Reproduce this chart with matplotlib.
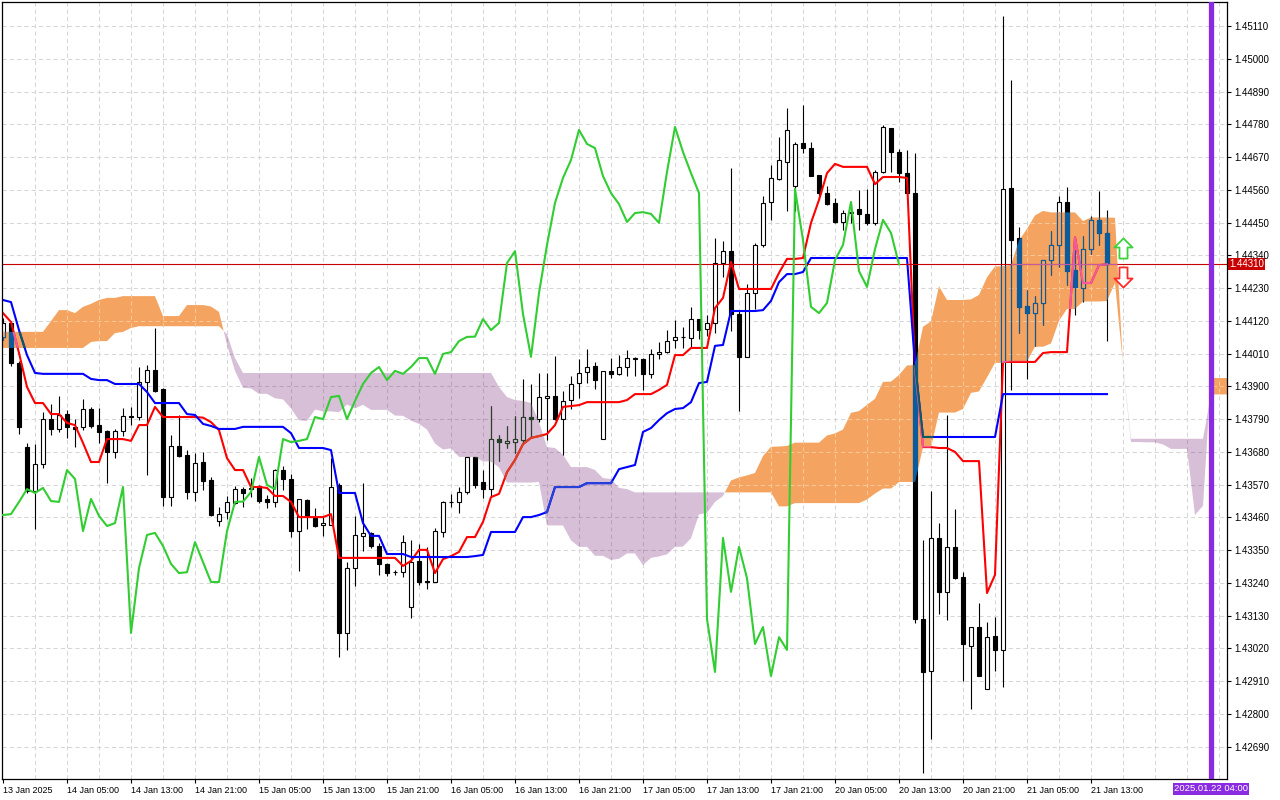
import numpy as np
import matplotlib
matplotlib.use("Agg")
import matplotlib.pyplot as plt
import matplotlib.transforms as mtransforms
from matplotlib.path import Path
from matplotlib.patches import PathPatch

plt.rcParams['font.family'] = ['Liberation Sans', 'DejaVu Sans']

# H1 candles, 13 Jan 21:00 .. 21 Jan 15:00
opens = [
    1.44066, 1.44113, 1.43978, 1.43696, 1.43549, 1.43639, 1.43790, 1.43757, 1.43807, 1.43764,
    1.43764, 1.43824, 1.43770, 1.43750, 1.43680, 1.43750, 1.43800, 1.43797, 1.43915, 1.43955,
    1.43891, 1.43528, 1.43700, 1.43670, 1.43545, 1.43646, 1.43586, 1.43448, 1.43478, 1.43508,
    1.43555, 1.43555, 1.43565, 1.43522, 1.43512, 1.43619, 1.43589, 1.43414, 1.43518, 1.43458,
    1.43434, 1.43434, 1.43569, 1.43072, 1.43290, 1.43398, 1.43408, 1.43364, 1.43304, 1.43277,
    1.43277, 1.43159, 1.43314, 1.43246, 1.43243, 1.43411, 1.43512, 1.43512, 1.43545, 1.43663,
    1.43579, 1.43555, 1.43723, 1.43710, 1.43713, 1.43720, 1.43797, 1.43790, 1.43861, 1.43868,
    1.43790, 1.43854, 1.43911, 1.43948, 1.43968, 1.43723, 1.43952, 1.43942, 1.43965, 1.43992,
    1.43992, 1.43942, 1.44009, 1.44015, 1.44056, 1.44066, 1.44062, 1.44126, 1.44093, 1.44113,
    1.44314, 1.44354, 1.44143, 1.43999, 1.44213, 1.44375, 1.44519, 1.44596, 1.44653, 1.44573,
    1.44717, 1.44700, 1.44610, 1.44549, 1.44516, 1.44452, 1.44482, 1.44496, 1.44479, 1.44449,
    1.44620, 1.44768, 1.44687, 1.44616, 1.44549, 1.43119, 1.42944, 1.43391, 1.43210, 1.43361,
    1.43260, 1.43028, 1.43092, 1.42884, 1.43062, 1.43015, 1.44566, 1.44398, 1.44170, 1.44146,
    1.44180, 1.44324, 1.44375, 1.44519, 1.44291, 1.44230, 1.44361, 1.44459, 1.44415,
]
highs = [
    1.44130, 1.44119, 1.43985, 1.43710, 1.43706, 1.43814, 1.43841, 1.43868, 1.43821, 1.43790,
    1.43858, 1.43831, 1.43827, 1.43753, 1.43757, 1.43827, 1.43831, 1.43965, 1.43972, 1.44096,
    1.43894, 1.43737, 1.43804, 1.43686, 1.43676, 1.43680, 1.43596, 1.43495, 1.43532, 1.43565,
    1.43562, 1.43592, 1.43569, 1.43535, 1.43622, 1.43633, 1.43606, 1.43522, 1.43522, 1.43492,
    1.43461, 1.43659, 1.43575, 1.43310, 1.43465, 1.43575, 1.43411, 1.43374, 1.43307, 1.43283,
    1.43401, 1.43384, 1.43371, 1.43361, 1.43424, 1.43515, 1.43539, 1.43562, 1.43663, 1.43663,
    1.43619, 1.43834, 1.43737, 1.43767, 1.43800, 1.43925, 1.43908, 1.43945, 1.43945, 1.44002,
    1.43884, 1.43935, 1.43992, 1.44025, 1.43982, 1.43952, 1.43995, 1.44005, 1.44022, 1.43999,
    1.43995, 1.44025, 1.44049, 1.44089, 1.44123, 1.44099, 1.44167, 1.44126, 1.44140, 1.44398,
    1.44388, 1.44633, 1.44156, 1.44244, 1.44381, 1.44539, 1.44643, 1.44737, 1.44835, 1.44720,
    1.44845, 1.44720, 1.44610, 1.44573, 1.44532, 1.44492, 1.44516, 1.44559, 1.44563, 1.44626,
    1.44778, 1.44768, 1.44697, 1.44694, 1.44684, 1.43384, 1.43549, 1.43441, 1.43804, 1.43488,
    1.43277, 1.43092, 1.43173, 1.43109, 1.43126, 1.45144, 1.44929, 1.44435, 1.44224, 1.44203,
    1.44324, 1.44422, 1.44539, 1.44569, 1.44358, 1.44405, 1.44472, 1.44556, 1.44492,
]
lows = [
    1.44056, 1.43968, 1.43740, 1.43542, 1.43421, 1.43626, 1.43737, 1.43747, 1.43727, 1.43696,
    1.43753, 1.43760, 1.43710, 1.43575, 1.43659, 1.43733, 1.43770, 1.43787, 1.43602, 1.43881,
    1.43498, 1.43498, 1.43663, 1.43522, 1.43515, 1.43552, 1.43465, 1.43431, 1.43455, 1.43505,
    1.43495, 1.43528, 1.43508, 1.43492, 1.43495, 1.43552, 1.43394, 1.43280, 1.43421, 1.43428,
    1.43398, 1.43434, 1.42991, 1.43015, 1.43230, 1.43347, 1.43357, 1.43267, 1.43263, 1.43267,
    1.43260, 1.43122, 1.43233, 1.43220, 1.43243, 1.43394, 1.43495, 1.43475, 1.43539, 1.43559,
    1.43525, 1.43528, 1.43649, 1.43693, 1.43676, 1.43706, 1.43730, 1.43780, 1.43720, 1.43787,
    1.43670, 1.43824, 1.43861, 1.43911, 1.43891, 1.43723, 1.43928, 1.43938, 1.43935, 1.43935,
    1.43888, 1.43928, 1.43992, 1.44012, 1.44029, 1.44029, 1.44029, 1.44059, 1.44069, 1.44079,
    1.44267, 1.44086, 1.43817, 1.43999, 1.44160, 1.44368, 1.44459, 1.44593, 1.44489, 1.44489,
    1.44684, 1.44606, 1.44532, 1.44509, 1.44449, 1.44425, 1.44449, 1.44425, 1.44442, 1.44442,
    1.44616, 1.44620, 1.44586, 1.44549, 1.43105, 1.42602, 1.42716, 1.43136, 1.43115, 1.43253,
    1.42911, 1.42817, 1.42927, 1.42884, 1.42944, 1.42891, 1.43888, 1.44079, 1.43925, 1.44036,
    1.44106, 1.44274, 1.44301, 1.44240, 1.44140, 1.44183, 1.44344, 1.44375, 1.44052,
]
closes = [
    1.44113, 1.43978, 1.43764, 1.43549, 1.43639, 1.43790, 1.43757, 1.43804, 1.43764, 1.43757,
    1.43824, 1.43767, 1.43747, 1.43680, 1.43750, 1.43800, 1.43797, 1.43915, 1.43955, 1.43884,
    1.43528, 1.43700, 1.43666, 1.43545, 1.43642, 1.43582, 1.43468, 1.43471, 1.43512, 1.43555,
    1.43542, 1.43559, 1.43515, 1.43512, 1.43619, 1.43589, 1.43414, 1.43522, 1.43465, 1.43431,
    1.43441, 1.43562, 1.43072, 1.43290, 1.43401, 1.43408, 1.43364, 1.43304, 1.43273, 1.43276,
    1.43377, 1.43310, 1.43243, 1.43243, 1.43414, 1.43512, 1.43513, 1.43545, 1.43663, 1.43569,
    1.43555, 1.43723, 1.43713, 1.43717, 1.43723, 1.43797, 1.43790, 1.43864, 1.43868, 1.43790,
    1.43851, 1.43908, 1.43945, 1.43965, 1.43921, 1.43952, 1.43942, 1.43965, 1.43995, 1.43995,
    1.43942, 1.44009, 1.44015, 1.44052, 1.44066, 1.44067, 1.44126, 1.44089, 1.44113, 1.44314,
    1.44354, 1.44143, 1.43999, 1.44213, 1.44375, 1.44516, 1.44600, 1.44660, 1.44761, 1.44714,
    1.44700, 1.44606, 1.44549, 1.44512, 1.44452, 1.44482, 1.44485, 1.44479, 1.44449, 1.44620,
    1.44771, 1.44687, 1.44616, 1.44549, 1.43119, 1.42941, 1.43391, 1.43210, 1.43361, 1.43256,
    1.43035, 1.43092, 1.42927, 1.43058, 1.43015, 1.44563, 1.44391, 1.44167, 1.44146, 1.44180,
    1.44324, 1.44375, 1.44519, 1.44287, 1.44234, 1.44361, 1.44459, 1.44415, 1.44310,
]

# Ichimoku lines
tenkan = [
    1.44146, 1.44116, 1.44012, 1.43898, 1.43844, 1.43844, 1.43807, 1.43807, 1.43777, 1.43770,
    1.43710, 1.43646, 1.43646, 1.43723, 1.43723, 1.43723, 1.43717, 1.43770, 1.43770, 1.43831,
    1.43797, 1.43797, 1.43797, 1.43797, 1.43797, 1.43795, 1.43780, 1.43753, 1.43659, 1.43619,
    1.43619, 1.43562, 1.43562, 1.43559, 1.43532, 1.43532, 1.43512, 1.43461, 1.43461, 1.43461,
    1.43461, 1.43471, 1.43324, 1.43324, 1.43324, 1.43324, 1.43324, 1.43324, 1.43324, 1.43324,
    1.43297, 1.43314, 1.43351, 1.43351, 1.43273, 1.43320, 1.43330, 1.43344, 1.43394, 1.43394,
    1.43445, 1.43528, 1.43539, 1.43612, 1.43653, 1.43706, 1.43727, 1.43733, 1.43740, 1.43770,
    1.43831, 1.43834, 1.43837, 1.43847, 1.43847, 1.43847, 1.43847, 1.43847, 1.43854, 1.43874,
    1.43874, 1.43874, 1.43888, 1.43905, 1.44005, 1.44005, 1.44029, 1.44029, 1.44029, 1.44163,
    1.44197, 1.44318, 1.44227, 1.44227, 1.44227, 1.44227, 1.44227, 1.44281, 1.44328, 1.44328,
    1.44331, 1.44449, 1.44526, 1.44616, 1.44647, 1.44637, 1.44637, 1.44637, 1.44637, 1.44579,
    1.44603, 1.44603, 1.44603, 1.44600, 1.43962, 1.43696, 1.43696, 1.43693, 1.43693, 1.43680,
    1.43649, 1.43649, 1.43649, 1.43206, 1.43267, 1.43982, 1.43982, 1.43982, 1.43982, 1.43982,
    1.44012, 1.44015, 1.44015, 1.44015, 1.44401, 1.44247, 1.44247, 1.44307, 1.44310,
]
kijun = ([1.44190, 1.44183, 1.44089, 1.44005, 1.43945] + [1.43942] * 6
         + [1.43925, 1.43921, 1.43921] + [1.43908] * 4 + [1.43881] + [1.43844] * 4
         + [1.43807, 1.43804, 1.43774, 1.43767] + [1.43757] * 3 + [1.43764] * 6
         + [1.43743] + [1.43693] * 4 + [1.43686] + [1.43542] * 3 + [1.43441]
         + [1.43398] * 2 + [1.43337] * 3 + [1.43327] * 8 + [1.43330, 1.43334]
         + [1.43411] * 4 + [1.43461] * 2 + [1.43468, 1.43478] + [1.43562] * 4
         + [1.43575] * 4 + [1.43622, 1.43629, 1.43636, 1.43747, 1.43760, 1.43787,
                            1.43810, 1.43824, 1.43827, 1.43847, 1.43911, 1.43915,
                            1.44036, 1.44039]
         + [1.44153] * 4 + [1.44156, 1.44187, 1.44250, 1.44277, 1.44277, 1.44284]
         + [1.44331] * 13 + [1.43975] + [1.43730] * 10 + [1.43874] * 14)

# Senkou spans (cloud), 15 bars further than the candles
span_a = [
    1.44083, 1.44083, 1.44083, 1.44083, 1.44083, 1.44083,
    1.44119, 1.44156, 1.44156, 1.44146, 1.44167, 1.44177, 1.44190, 1.44197, 1.44197,
    1.44203, 1.44203, 1.44203, 1.44203, 1.44203,
    1.44136, 1.44136, 1.44136, 1.44173, 1.44173, 1.44173,
    1.44168, 1.44150, 1.44040, 1.43952, 1.43895, 1.43893, 1.43875, 1.43875, 1.43860, 1.43856,
    1.43826, 1.43786, 1.43784, 1.43822, 1.43816, 1.43816, 1.43813, 1.43839, 1.43826, 1.43838,
    1.43821, 1.43821, 1.43821, 1.43802, 1.43801, 1.43785, 1.43774, 1.43755, 1.43708, 1.43688,
    1.43692, 1.43663, 1.43663, 1.43662, 1.43648, 1.43648, 1.43628, 1.43577, 1.43577, 1.43577,
    1.43577, 1.43579, 1.43433, 1.43433, 1.43433, 1.43383, 1.43361, 1.43361, 1.43331, 1.43331,
    1.43317, 1.43321, 1.43339, 1.43339, 1.43300, 1.43324, 1.43329, 1.43336, 1.43361, 1.43362,
    1.43390, 1.43470, 1.43475, 1.43512, 1.43532, 1.43584, 1.43594, 1.43601, 1.43609, 1.43666,
    1.43697, 1.43698, 1.43700, 1.43711, 1.43711, 1.43711, 1.43711, 1.43735, 1.43742, 1.43755,
    1.43811, 1.43817, 1.43838, 1.43858, 1.43915, 1.43916, 1.43938, 1.43970, 1.43972, 1.44100,
    1.44118, 1.44236, 1.44190, 1.44190, 1.44190, 1.44192, 1.44207, 1.44266, 1.44303, 1.44303,
    1.44308, 1.44390, 1.44429, 1.44474, 1.44489, 1.44484, 1.44484, 1.44484, 1.44484, 1.44455,
    1.44467, 1.44467, 1.44467, 1.44466, 1.43969, 1.43713, 1.43713, 1.43712, 1.43712, 1.43705,
    1.43690, 1.43690, 1.43690, 1.43468, 1.43499, 1.43928, 1.43928, 1.43928,
]
span_b = ([1.44029] * 11 + [1.44049, 1.44052, 1.44052, 1.44079, 1.44083, 1.44096]
          + [1.44102] * 11 + [1.44075, 1.43995] + [1.43945] * 32
          + [1.43898, 1.43864, 1.43854, 1.43851, 1.43844, 1.43780, 1.43696, 1.43693, 1.43670]
          + [1.43629, 1.43629, 1.43629, 1.43619, 1.43592, 1.43589, 1.43559, 1.43555]
          + [1.43544] * 18 + [1.43497, 1.43497] + [1.43508] * 9
          + [1.43520, 1.43540, 1.43557, 1.43557, 1.43579, 1.43579, 1.43579]
          + [1.43695, 1.43695, 1.43812, 1.43812, 1.43812, 1.43824, 1.43878, 1.43883, 1.43930, 1.43979]
          + [1.43979, 1.43984, 1.43984, 1.43984, 1.44033, 1.44033, 1.44044, 1.44120, 1.44160, 1.44160]
          + [1.44185, 1.44185, 1.44185, 1.44187, 1.44247, 1.43975]
          + [1.43724] * 10 + [1.43873] * 3)

lag = 26            # chikou span shift
bid = 1.44310
time_bar = 151      # 2025.01.22 04:00 marker
signal_bar = 140
signal_up = 1.44365
signal_down = 1.44267

price_ticks = [1.42690, 1.42800, 1.42910, 1.43020, 1.43130, 1.43240, 1.43350, 1.43460,
               1.43570, 1.43680, 1.43790, 1.43900, 1.44010, 1.44120, 1.44230, 1.44340,
               1.44450, 1.44560, 1.44670, 1.44780, 1.44890, 1.45000, 1.45110]
label_bars = [0, 8, 16, 24, 32, 40, 48, 56, 64, 72, 80, 88, 96, 104, 112, 120, 128, 136]
time_labels = ["13 Jan 2025", "14 Jan 05:00", "14 Jan 13:00", "14 Jan 21:00", "15 Jan 05:00",
               "15 Jan 13:00", "15 Jan 21:00", "16 Jan 05:00", "16 Jan 13:00", "16 Jan 21:00",
               "17 Jan 05:00", "17 Jan 13:00", "17 Jan 21:00", "20 Jan 05:00", "20 Jan 13:00",
               "20 Jan 21:00", "21 Jan 05:00", "21 Jan 13:00"]

opens, highs, lows, closes = map(np.array, (opens, highs, lows, closes))
tenkan, kijun = np.array(tenkan), np.array(kijun)
span_a, span_b = np.array(span_a), np.array(span_b)
bars = np.arange(len(closes))
cloud_x = np.arange(len(span_a))

fig = plt.figure(figsize=(12.8, 8), dpi=100)
ax = fig.add_axes([2 / 1280, 21 / 800, 1225 / 1280, 777 / 800])
ax.set_xlim(-0.125, 153.0)
ax.set_ylim(1.425816, 1.451906)

# kumo
orange = ax.fill_between(cloud_x, span_a, span_b, where=span_a >= span_b, interpolate=True,
                         facecolor='#f4a460', lw=0, zorder=1)
thistle = ax.fill_between(cloud_x, span_a, span_b, where=span_a < span_b, interpolate=True,
                          facecolor='#d8bfd8', lw=0, zorder=1)


def clip_patch(coll):
    paths = coll.get_paths()
    return PathPatch(Path.make_compound_path(*paths), transform=ax.transData,
                     facecolor='none', edgecolor='none')


orange_clip = clip_patch(orange)
thistle_clip = clip_patch(thistle)


def draw_grid(color, clip=None, z=0.5):
    arts = [ax.axhline(v, color=color, lw=0.75, ls=(0, (4, 3)), zorder=z) for v in price_ticks]
    arts += [ax.axvline(g, color=color, lw=0.75, ls=(0, (4, 3)), zorder=z) for g in range(4, 154, 4)]
    if clip is not None:
        for a in arts:
            a.set_clip_path(clip)


draw_grid('#d6d6d6')
draw_grid('#f9c898', orange_clip, 1.5)
draw_grid('#b9a2b9', thistle_clip, 1.5)


def draw_layer(ink, paper, red, blue, bidcol, clip=None, z=2):
    arts = []
    arts.append(ax.vlines(bars, lows, highs, colors=ink, lw=0.8, zorder=z))
    up = closes >= opens
    body = ax.bar(bars, closes - opens, bottom=opens, width=0.52,
                  color=[paper if u else ink for u in up], edgecolor=ink, lw=0.8, zorder=z + 0.1)
    arts.extend(body.patches)
    arts += ax.plot(bars, tenkan, color=red, lw=1.5, zorder=z + 0.3)
    arts += ax.plot(bars, kijun, color=blue, lw=1.5, zorder=z + 0.3)
    arts.append(ax.axhline(bid, color=bidcol, lw=0.8, zorder=z + 0.4))
    if clip is not None:
        for a in arts:
            a.set_clip_path(clip)


# normal drawing, then MT-style inverted colours where the cloud covers it
draw_layer('black', 'white', '#ff0000', '#0000ff', '#c80000', None, 2)
draw_layer('#0b5b9f', '#f4a460', '#f45b9f', '#0b5b60', '#c35b9f', orange_clip, 4)
draw_layer('#274027', '#d8bfd8', '#d84027', '#2740d8', '#ef4027', thistle_clip, 6)

# chikou span is painted after the cloud
ax.plot(bars[lag:] - lag, closes[lag:], color='#32cd32', lw=1.5, zorder=8)

# signal arrows
up_arrow = Path([(0, 0.5), (0.45, 0.05), (0.2, 0.05), (0.2, -0.5), (-0.2, -0.5),
                 (-0.2, 0.05), (-0.45, 0.05), (0, 0.5)],
                [Path.MOVETO] + [Path.LINETO] * 6 + [Path.CLOSEPOLY])
down_arrow = Path([(x, -y) for x, y in up_arrow.vertices], up_arrow.codes)
ax.plot([signal_bar], [signal_up], marker=up_arrow, ms=14.5, mfc='white', mec='#3cd23c',
        mew=1.3, zorder=9)
ax.plot([signal_bar], [signal_down], marker=down_arrow, ms=14.5, mfc='white', mec='#ff2a2a',
        mew=1.3, zorder=9)

# time cursor line
ax.axvline(time_bar, color='#8a2be2', lw=3.8, zorder=9)

# axes
for s in ax.spines.values():
    s.set_color('black')
    s.set_linewidth(0.9)
ax.yaxis.tick_right()
ax.set_yticks(price_ticks)
ax.set_yticklabels([f"{v:.5f}" for v in price_ticks])
ax.set_xticks(label_bars)
ax.set_xticklabels(time_labels, ha='left')
ax.tick_params(axis='y', direction='out', length=3, width=0.8, pad=2, labelsize=7, colors='black')
ax.tick_params(axis='x', direction='out', length=3, width=0.8, pad=2, labelsize=6.5, colors='black')

ax.text(1.0015, bid, f"{bid:.5f}", transform=mtransforms.blended_transform_factory(ax.transAxes, ax.transData),
        ha='left', va='center', color='white', fontsize=7, clip_on=False, zorder=10,
        bbox=dict(boxstyle='square,pad=0.12', fc='#c80000', ec='none'))
ax.text(time_bar, -0.0125, "2025.01.22 04:00",
        transform=mtransforms.blended_transform_factory(ax.transData, ax.transAxes),
        ha='center', va='center', color='white', fontsize=6.8, clip_on=False, zorder=10,
        bbox=dict(boxstyle='square,pad=0.15', fc='#8a2be2', ec='none'))

fig.savefig('out.png', dpi=100)
